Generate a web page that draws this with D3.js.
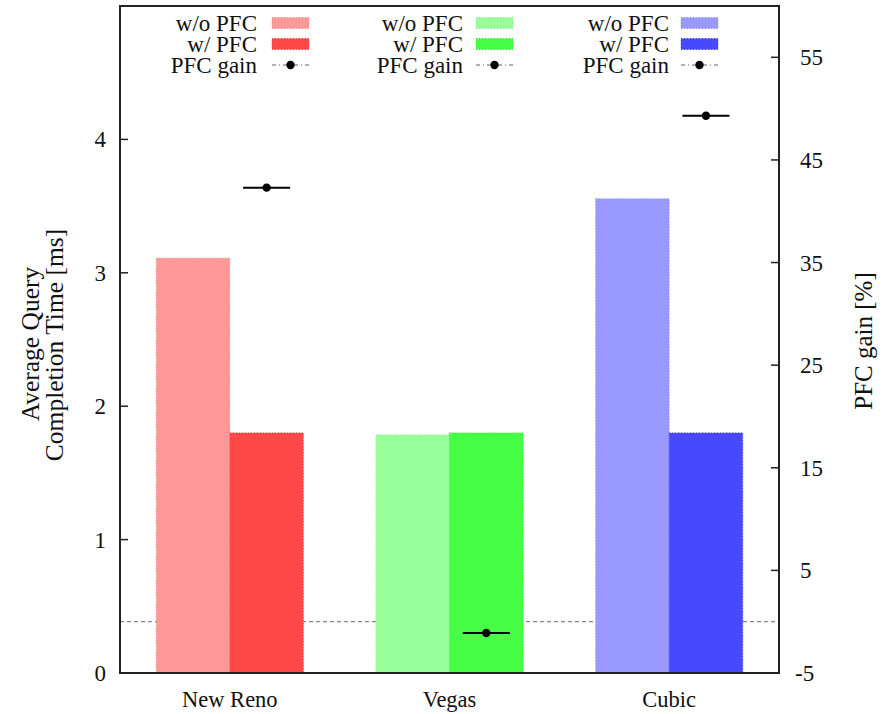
<!DOCTYPE html>
<html><head><meta charset="utf-8">
<script src="https://cdn.jsdelivr.net/npm/d3@7"></script>
<style>body{margin:0;background:#fff}svg{display:block}text{font-family:"Liberation Serif","Times New Roman",serif;fill:#111}</style>
</head><body>
<svg id="c" width="888" height="714"></svg>
<script>
const categories = ["New Reno", "Vegas", "Cubic"];
const withoutPFC = [3.11, 1.785, 3.555];
const withPFC = [1.80, 1.80, 1.80];
const pfcGain = [42.3, -1.1, 49.3];
const leftTicks = [0, 1, 2, 3, 4];
const rightTicks = [-5, 5, 15, 25, 35, 45, 55];
const lightColors = ["#ff9999", "#99ff99", "#9999ff"];
const darkColors = ["#ff4848", "#48ff48", "#4848ff"];
const lightStroke = ["#e88a8a", "#8ae88a", "#8a8ae8"];
const darkStroke = ["#e04040", "#40e040", "#4040e0"];

const svg = d3.select("#c");
const L = 120, R = 779, T = 6, B = 673;
const x = d3.scaleLinear().domain([-0.5, 2.5]).range([L, R]);
const y = d3.scaleLinear().domain([0, 5]).range([B, T]);
const y2 = d3.scaleLinear().domain([-5, 60]).range([B, T]);
const bw = 0.335;

// zero gain line
svg.append("line").attr("x1", L).attr("x2", R).attr("y1", y2(0)).attr("y2", y2(0))
  .attr("stroke", "#888").attr("stroke-width", 1.3).attr("stroke-dasharray", "4,3");

categories.forEach((c, i) => {
  svg.append("rect").attr("x", x(i - bw)).attr("width", x(i) - x(i - bw))
    .attr("y", y(withoutPFC[i])).attr("height", y(0) - y(withoutPFC[i]))
    .attr("fill", lightColors[i]).attr("stroke", lightStroke[i]).attr("stroke-width", 1).attr("stroke-dasharray", "1,2");
  svg.append("rect").attr("x", x(i)).attr("width", x(i + bw) - x(i))
    .attr("y", y(withPFC[i])).attr("height", y(0) - y(withPFC[i]))
    .attr("fill", darkColors[i]).attr("stroke", darkStroke[i]).attr("stroke-width", 1).attr("stroke-dasharray", "1,2");
});

// gain points
categories.forEach((c, i) => {
  const cx = x(i + bw / 2), cy = y2(pfcGain[i]);
  svg.append("line").attr("x1", x(i + bw / 2 - 0.107)).attr("x2", x(i + bw / 2 + 0.107))
    .attr("y1", cy).attr("y2", cy).attr("stroke", "#000").attr("stroke-width", 2);
  svg.append("circle").attr("cx", cx).attr("cy", cy).attr("r", 4.2).attr("fill", "#000");
});

// frame
svg.append("rect").attr("x", L).attr("y", T).attr("width", R - L).attr("height", B - T)
  .attr("fill", "none").attr("stroke", "#222").attr("stroke-width", 2);

// left axis ticks
leftTicks.forEach(v => {
  if (v > 0) svg.append("line").attr("x1", L).attr("x2", L + 8).attr("y1", y(v)).attr("y2", y(v)).attr("stroke", "#222").attr("stroke-width", 1.5);
  svg.append("text").attr("x", 106).attr("y", y(v)).attr("dy", "0.35em").attr("text-anchor", "end")
    .style("font-size", "23px").text(v);
});
// right axis ticks
rightTicks.forEach(v => {
  if (v > -5) svg.append("line").attr("x1", R - 8).attr("x2", R).attr("y1", y2(v)).attr("y2", y2(v)).attr("stroke", "#222").attr("stroke-width", 1.5);
  svg.append("text").attr("x", v < 0 ? 795 : 800).attr("y", y2(v)).attr("dy", "0.35em").attr("text-anchor", "start")
    .style("font-size", "23px").text(v);
});
// categories
categories.forEach((c, i) => {
  svg.append("text").attr("x", x(i)).attr("y", 707).attr("text-anchor", "middle").style("font-size", "22.5px").text(c);
});

// axis titles
svg.append("text").attr("transform", "translate(39,344) rotate(-90)").attr("text-anchor", "middle")
  .style("font-size", "25.5px").text("Average Query");
svg.append("text").attr("transform", "translate(63,345) rotate(-90)").attr("text-anchor", "middle")
  .style("font-size", "25.5px").text("Completion Time [ms]");
svg.append("text").attr("transform", "translate(872,341) rotate(-90)").attr("text-anchor", "middle")
  .style("font-size", "25px").text("PFC gain [%]");

// legend
const legTextX = [257, 463, 669];
const legBoxX = [272, 476, 681];
const rows = [23, 44, 65];
const labels = ["w/o PFC", "w/ PFC", "PFC gain"];
categories.forEach((c, i) => {
  labels.forEach((lab, r) => {
    svg.append("text").attr("x", legTextX[i]).attr("y", rows[r]).attr("dy", "0.33em").attr("text-anchor", "end")
      .style("font-size", "23px").text(lab);
  });
  svg.append("rect").attr("x", legBoxX[i]).attr("y", rows[0] - 5.5).attr("width", 37).attr("height", 11)
    .attr("fill", lightColors[i]).attr("stroke", lightStroke[i]).attr("stroke-dasharray", "1,2");
  svg.append("rect").attr("x", legBoxX[i]).attr("y", rows[1] - 5.5).attr("width", 37).attr("height", 11)
    .attr("fill", darkColors[i]).attr("stroke", darkStroke[i]).attr("stroke-dasharray", "1,2");
  svg.append("line").attr("x1", legBoxX[i]).attr("x2", legBoxX[i] + 37).attr("y1", rows[2]).attr("y2", rows[2])
    .attr("stroke", "#666").attr("stroke-width", 1.2).attr("stroke-dasharray", "4,3,1,3");
  svg.append("circle").attr("cx", legBoxX[i] + 18.5).attr("cy", rows[2]).attr("r", 4.2).attr("fill", "#000");
});
</script>
</body></html>
